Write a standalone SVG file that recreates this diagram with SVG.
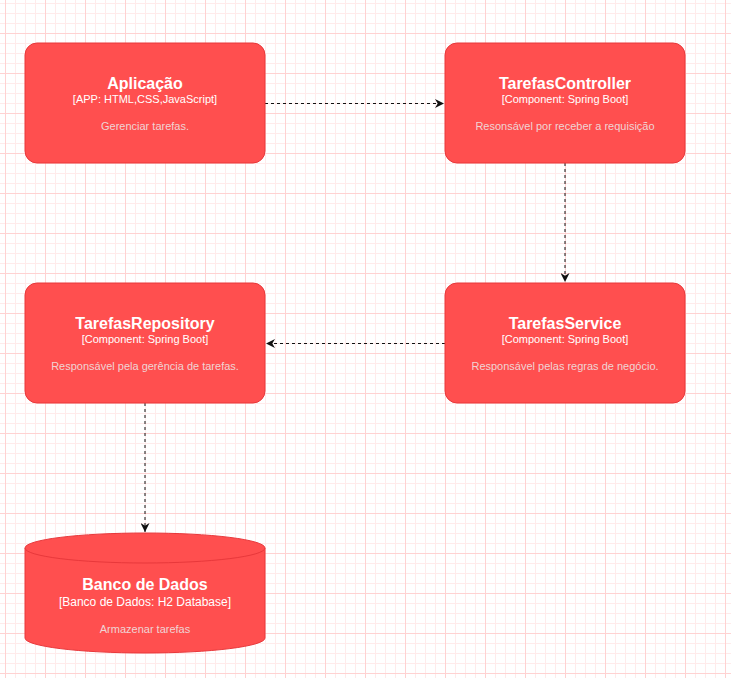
<svg xmlns="http://www.w3.org/2000/svg" width="731" height="678" viewBox="0 0 731 678">
<style>
.box{fill:#FF4F4F;stroke:#E8383B;stroke-width:1}
.t{font-family:"Liberation Sans",Arial,sans-serif;font-weight:bold;font-size:16px;fill:#ffffff;text-anchor:middle}
.s{font-family:"Liberation Sans",Arial,sans-serif;font-size:11px;fill:#ffffff;text-anchor:middle}
.d{font-family:"Liberation Sans",Arial,sans-serif;font-size:11px;fill:#f0d4d4;text-anchor:middle}
.c{fill:none;stroke:#111111;stroke-width:1;stroke-dasharray:3 3}
.gmin{fill:none;stroke:#ffebeb;stroke-width:1}
.gmaj{fill:none;stroke:#ffd2d2;stroke-width:1}
</style>
<defs>
<marker id="arr" viewBox="0 0 10 10" refX="10" refY="5" markerWidth="9" markerHeight="9" orient="auto" markerUnits="userSpaceOnUse">
<path d="M0,0 L10,5 L0,10 L3,5 Z" fill="#111111"/>
</marker>
</defs>
<rect width="731" height="678" fill="#ffffff"/>
<g id="grid">
<path class="gmin" d="M5.5,0v678m10,-678v678m10,-678v678m10,-678v678m10,-678v678m10,-678v678m10,-678v678m10,-678v678m10,-678v678m10,-678v678m10,-678v678m10,-678v678m10,-678v678m10,-678v678m10,-678v678m10,-678v678m10,-678v678m10,-678v678m10,-678v678m10,-678v678m10,-678v678m10,-678v678m10,-678v678m10,-678v678m10,-678v678m10,-678v678m10,-678v678m10,-678v678m10,-678v678m10,-678v678m10,-678v678m10,-678v678m10,-678v678m10,-678v678m10,-678v678m10,-678v678m10,-678v678m10,-678v678m10,-678v678m10,-678v678m10,-678v678m10,-678v678m10,-678v678m10,-678v678m10,-678v678m10,-678v678m10,-678v678m10,-678v678m10,-678v678m10,-678v678m10,-678v678m10,-678v678m10,-678v678m10,-678v678m10,-678v678m10,-678v678m10,-678v678m10,-678v678m10,-678v678m10,-678v678m10,-678v678m10,-678v678m10,-678v678m10,-678v678m10,-678v678m10,-678v678m10,-678v678m10,-678v678m10,-678v678m10,-678v678m10,-678v678m10,-678v678m10,-678v678m10,-678v678"/>
<path class="gmin" d="M0,3.5h731m-731,10h731m-731,10h731m-731,10h731m-731,10h731m-731,10h731m-731,10h731m-731,10h731m-731,10h731m-731,10h731m-731,10h731m-731,10h731m-731,10h731m-731,10h731m-731,10h731m-731,10h731m-731,10h731m-731,10h731m-731,10h731m-731,10h731m-731,10h731m-731,10h731m-731,10h731m-731,10h731m-731,10h731m-731,10h731m-731,10h731m-731,10h731m-731,10h731m-731,10h731m-731,10h731m-731,10h731m-731,10h731m-731,10h731m-731,10h731m-731,10h731m-731,10h731m-731,10h731m-731,10h731m-731,10h731m-731,10h731m-731,10h731m-731,10h731m-731,10h731m-731,10h731m-731,10h731m-731,10h731m-731,10h731m-731,10h731m-731,10h731m-731,10h731m-731,10h731m-731,10h731m-731,10h731m-731,10h731m-731,10h731m-731,10h731m-731,10h731m-731,10h731m-731,10h731m-731,10h731m-731,10h731m-731,10h731m-731,10h731m-731,10h731m-731,10h731m-731,10h731m-731,10h731m-731,10h731"/>
<path class="gmaj" d="M5.5,0v678m40,-678v678m40,-678v678m40,-678v678m40,-678v678m40,-678v678m40,-678v678m40,-678v678m40,-678v678m40,-678v678m40,-678v678m40,-678v678m40,-678v678m40,-678v678m40,-678v678m40,-678v678m40,-678v678m40,-678v678m40,-678v678"/>
<path class="gmaj" d="M0,33.5h731m-731,40h731m-731,40h731m-731,40h731m-731,40h731m-731,40h731m-731,40h731m-731,40h731m-731,40h731m-731,40h731m-731,40h731m-731,40h731m-731,40h731m-731,40h731m-731,40h731m-731,40h731m-731,40h731"/>
</g>

<g id="connectors">
<path class="c" d="M265,103.5 L444,103.5" marker-end="url(#arr)"/>
<path class="c" d="M565,163 L565,282" marker-end="url(#arr)"/>
<path class="c" d="M445,343.5 L266,343.5" marker-end="url(#arr)"/>
<path class="c" d="M145,403 L145,532" marker-end="url(#arr)"/>
</g>

<g id="aplicacao">
<rect class="box" x="25" y="43" width="240" height="120" rx="12"/>
<text class="t" x="145" y="89">Aplicação</text>
<text class="s" x="145" y="103">[APP: HTML,CSS,JavaScript]</text>
<text class="d" x="145" y="130">Gerenciar tarefas.</text>
</g>

<g id="tarefasController">
<rect class="box" x="445" y="43" width="240" height="120" rx="12"/>
<text class="t" x="565" y="89">TarefasController</text>
<text class="s" x="565" y="103">[Component: Spring Boot]</text>
<text class="d" x="565" y="130">Resonsável por receber a requisição</text>
</g>

<g id="tarefasRepository">
<rect class="box" x="25" y="283" width="240" height="120" rx="12"/>
<text class="t" x="145" y="329">TarefasRepository</text>
<text class="s" x="145" y="343">[Component: Spring Boot]</text>
<text class="d" x="145" y="370">Responsável pela gerência de tarefas.</text>
</g>

<g id="tarefasService">
<rect class="box" x="445" y="283" width="240" height="120" rx="12"/>
<text class="t" x="565" y="329">TarefasService</text>
<text class="s" x="565" y="343">[Component: Spring Boot]</text>
<text class="d" x="565" y="370">Responsável pelas regras de negócio.</text>
</g>

<g id="bancoDeDados">
<path class="box" d="M25,548 A120,15 0 0 1 265,548 L265,638 A120,15 0 0 1 25,638 Z"/>
<path class="box" d="M25,548 A120,15 0 0 0 265,548" fill="none"/>
<text class="t" x="145" y="590">Banco de Dados</text>
<text class="s" x="145" y="606" style="font-size:12px">[Banco de Dados: H2 Database]</text>
<text class="d" x="145" y="633">Armazenar tarefas</text>
</g>
</svg>
